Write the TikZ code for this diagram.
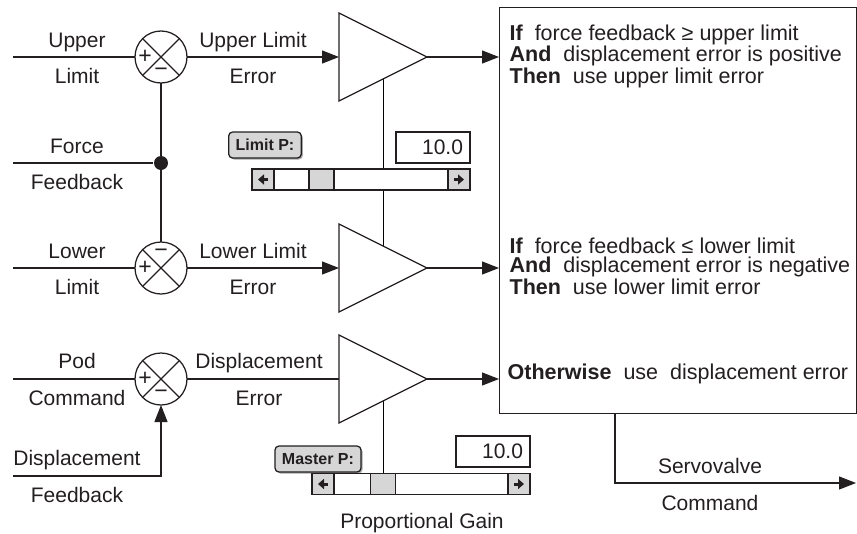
\documentclass[tikz,border=0pt]{standalone}
\usepackage{fontspec}
\setmainfont{Liberation Sans}
\usetikzlibrary{positioning,arrows.meta,shapes.geometric,calc,backgrounds,shadows}
\definecolor{btngray}{RGB}{214,214,214}
\definecolor{inkgray}{RGB}{35,31,32}

\begin{document}
\begin{tikzpicture}[x=1pt,y=-1pt,line width=1.25pt,draw=inkgray,text=inkgray,
  font=\fontsize{21}{25}\selectfont,>={Triangle[length=17pt,width=13pt]},
  sumj/.style={circle,draw,fill=white,minimum size=52pt,inner sep=0pt,outer sep=0pt},
  sgn/.style={font=\fontsize{23}{23}\selectfont,inner sep=0pt},
  amp/.style={isosceles triangle,isosceles triangle stretches,draw,fill=white,
    minimum width=88pt,minimum height=88pt,inner sep=0pt,outer sep=0pt,anchor=apex},
  dot/.style={circle,fill=inkgray,inner sep=0pt,minimum size=14pt},
  lab/.style={anchor=base},
  rule/.style={anchor=base west,align=left,inner sep=0pt,font=\fontsize{21.5}{19}\selectfont},
  bar/.style={rectangle,draw,fill=white,minimum width=218pt,minimum height=21pt,inner sep=0pt},
  sbtn/.style={rectangle,draw,fill=btngray,minimum width=22pt,minimum height=21pt,inner sep=0pt},
  sarr/.style={-{Triangle[length=6pt,width=10pt]},line width=3pt},
  valbox/.style={rectangle,draw,fill=white,text width=60pt,align=right,inner sep=7pt,minimum height=31pt},
  pbtn/.style={rectangle,rounded corners=4pt,draw,fill=btngray,inner xsep=7pt,minimum height=26pt,
    font=\bfseries\fontsize{16}{16}\selectfont,
    drop shadow={shadow xshift=1.5pt,shadow yshift=-1.5pt,fill=gray!70,opacity=1}}]
\useasboundingbox (0,0) rectangle (857,533);

% summing junctions
\node[sumj] (s1) at (161,57) {};
\node[sumj] (s2) at (161,268) {};
\node[sumj] (s3) at (161,379) {};
\foreach \s in {s1,s2,s3} {
  \draw (\s.north west) -- (\s.south east) (\s.north east) -- (\s.south west);
}
\node[sgn] at ($(s1.center)+(-16,0)$) {+};
\node[sgn] at ($(s1.center)+(0,15)$) {−};
\node[sgn] at ($(s2.center)+(0,-15)$) {−};
\node[sgn] at ($(s2.center)+(-16,0)$) {+};
\node[sgn] at ($(s3.center)+(-16,0)$) {+};
\node[sgn] at ($(s3.center)+(0,15)$) {−};

% amplifiers
\node[amp] (a1) at (427,57) {};
\node[amp] (a2) at (427,268) {};
\node[amp] (a3) at (427,379) {};

% rule box
\node[draw,anchor=north west,minimum width=357pt,minimum height=406pt,inner sep=0pt] (rules) at (499,7) {};
\node[rule] (r1) at (509,83) {\textbf{If}\ \ force feedback ≥ upper limit\\
  \textbf{And}\ \ displacement error is positive\\
  \textbf{Then}\ \ use upper limit error};
\node[rule] (r2) at (509,294) {\textbf{If}\ \ force feedback ≤ lower limit\\
  \textbf{And}\ \ displacement error is negative\\
  \textbf{Then}\ \ use lower limit error};
\node[rule] (r3) at (507,379) {\textbf{Otherwise}\ \ use\ \ displacement error};

% inputs
\coordinate (ulim) at (13,57);
\coordinate (ffb) at (13,163);
\coordinate (llim) at (13,268);
\coordinate (pod) at (13,379);
\coordinate (dfb) at (13,476);
\node[dot] (fdot) at (161,163) {};

\draw (ulim) -- (s1.west);
\draw (ffb) -- (fdot);
\draw (s1.south) -- (s2.north);
\draw (llim) -- (s2.west);
\draw (pod) -- (s3.west);
\draw[->] (dfb) -| (s3.south);
\draw[->] (s1.east) -- (a1.lower side);
\draw[->] (s2.east) -- (a2.lower side);
\draw (s3.east) -- (a3.lower side);
\draw[->] (a1.apex) -- (a1.apex -| rules.west);
\draw[->] (a2.apex) -- (a2.apex -| rules.west);
\draw[->] (a3.apex) -- (a3.apex -| rules.west);
\coordinate (svc) at (856,483);
\draw[->] ($(rules.south west)+(116,0)$) |- (svc);

\node[lab] at (77,47) {Upper};
\node[lab] at (77,83) {Limit};
\node[lab] at (77,153) {Force};
\node[lab] at (77,189) {Feedback};
\node[lab] at (77,258) {Lower};
\node[lab] at (77,294) {Limit};
\node[lab] at (77,368) {Pod};
\node[lab] at (77,405) {Command};
\node[lab] at (77,465) {Displacement};
\node[lab] at (77,502) {Feedback};
\node[lab] at (253,47) {Upper Limit};
\node[lab] at (253,83) {Error};
\node[lab] at (253,258) {Lower Limit};
\node[lab] at (253,294) {Error};
\node[lab] at (259,368) {Displacement};
\node[lab] at (259,405) {Error};
\node[lab] at (710,473) {Servovalve};
\node[lab] at (710,510) {Command};
\node[lab] at (422,528) {Proportional Gain};

% limit gain slider
\node[pbtn] (lbtn) at (265,145) {Limit P:};
\node[valbox] (lval) at (433,147.5) {10.0};
\node[bar] (lbar) at (361,179.5) {};
\node[sbtn,anchor=west] (lbl) at (lbar.west) {};
\node[sbtn,anchor=east] (lbr) at (lbar.east) {};
\node[sbtn,minimum width=25pt] (lth) at (321.5,179.5) {};
\draw[sarr] ($(lbl.center)+(5,0)$) -- ($(lbl.center)+(-5,0)$);
\draw[sarr] ($(lbr.center)+(-5,0)$) -- ($(lbr.center)+(5,0)$);

% master gain slider
\node[pbtn] (mbtn) at (318,459) {Master P:};
\node[valbox] (mval) at (493,451.5) {10.0};
\node[bar] (mbar) at (421,484) {};
\node[sbtn,anchor=west] (mbl) at (mbar.west) {};
\node[sbtn,anchor=east] (mbr) at (mbar.east) {};
\node[sbtn,minimum width=25pt] (mth) at (383,484) {};
\draw[sarr] ($(mbl.center)+(5,0)$) -- ($(mbl.center)+(-5,0)$);
\draw[sarr] ($(mbr.center)+(-5,0)$) -- ($(mbr.center)+(5,0)$);

\begin{scope}[on background layer]
\draw ($(a1.apex)!.5!(a1.lower side)$) -- ($(a2.apex)!.5!(a2.lower side)$);
\draw ($(a3.apex)!.5!(a3.lower side)$) -- (mth.center);
\end{scope}
\end{tikzpicture}
\end{document}
